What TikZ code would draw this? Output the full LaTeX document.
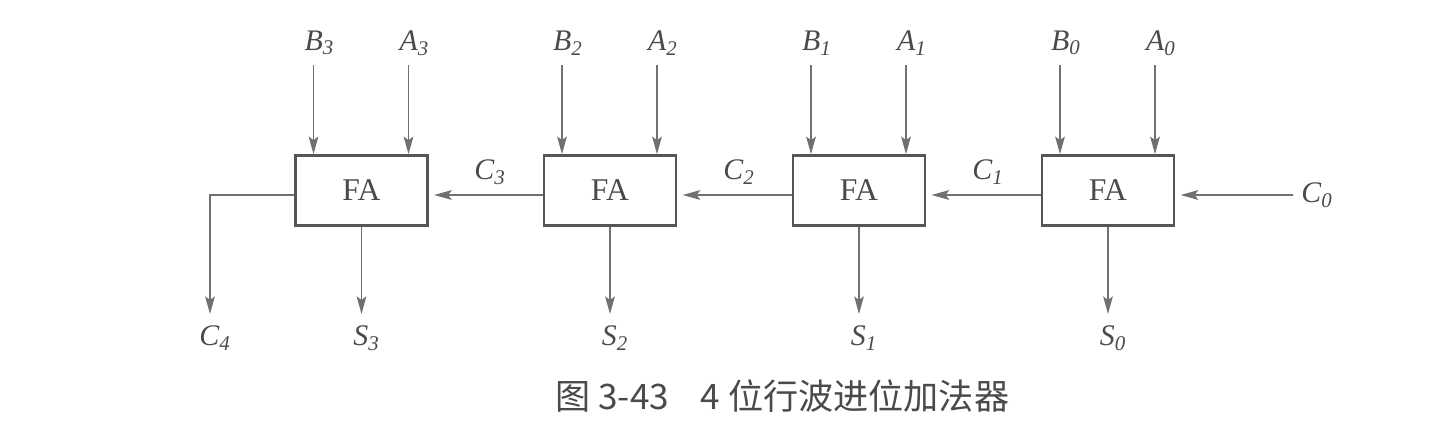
\documentclass[tikz,border=0pt]{standalone}
\usepackage{fontspec}
\setmainfont{Liberation Serif}
\newfontfamily\cjk{Noto Sans CJK SC}
\usetikzlibrary{arrows.meta}
\definecolor{ink}{HTML}{4A4A4A}
\definecolor{wirec}{HTML}{707070}
\definecolor{boxc}{HTML}{555555}
\begin{document}
\begin{tikzpicture}[x=0.02cm,y=-0.02cm,
  fabox/.style={draw=boxc, line width=1.5pt, minimum width=2.64cm, minimum height=1.40cm,
    inner sep=0pt, font=\fontsize{18}{20}\selectfont, text=ink},
  wire/.style={draw=wirec, line width=1pt},
  arr/.style={wire, -{Stealth[length=10pt,width=5.5pt,inset=2pt]}},
  lbl/.style={font=\fontsize{17}{19}\selectfont\itshape, text=ink, inner sep=1pt},
  captext/.style={font=\cjk\fontsize{20}{24}\selectfont, text=ink, inner sep=0pt}]
\useasboundingbox (0,0) rectangle (1447,430);

% full adders
\node[fabox] (fa3) at (361.5,190.5) {FA};
\node[fabox] (fa2) at (610,190.5) {FA};
\node[fabox] (fa1) at (859,190.5) {FA};
\node[fabox] (fa0) at (1108,190.5) {FA};

% input labels and arrows
\foreach \i/\cx in {3/361.5,2/610,1/859,0/1108}{
  \node[lbl] (b\i) at (\cx-48+6,43) {B\textsubscript{\i}};
  \node[lbl] (a\i) at (\cx+47+6,43) {A\textsubscript{\i}};
  \coordinate (bin\i) at (\cx-48,65);
  \coordinate (ain\i) at (\cx+47,65);
  \draw[arr] (bin\i) -- (bin\i |- fa\i.north);
  \draw[arr] (ain\i) -- (ain\i |- fa\i.north);
  \node[lbl] (s\i) at (\cx+5,338) {S\textsubscript{\i}};
  \coordinate (sout\i) at (\cx,314);
  \draw[arr] (fa\i.south) -- (sout\i);
}

% carries between stages
\draw[arr, shorten >=3pt] ([yshift=-0.09cm]fa2.west) -- ([yshift=-0.09cm]fa3.east);
\draw[arr, shorten >=3pt] ([yshift=-0.09cm]fa1.west) -- ([yshift=-0.09cm]fa2.east);
\draw[arr, shorten >=3pt] ([yshift=-0.09cm]fa0.west) -- ([yshift=-0.09cm]fa1.east);
\node[lbl] (c3) at (490,172) {C\textsubscript{3}};
\node[lbl] (c2) at (739,172) {C\textsubscript{2}};
\node[lbl] (c1) at (988,172) {C\textsubscript{1}};

% carry in
\node[lbl] (c0) at (1317,195) {C\textsubscript{0}};
\coordinate (cin) at (1293,195);
\draw[arr, shorten >=3pt] (cin) -- ([yshift=-0.09cm]fa0.east);

% carry out
\coordinate (cbend) at (210,195);
\coordinate (cout) at (210,314);
\draw[arr] ([yshift=-0.09cm]fa3.west) -- (cbend) -- (cout);
\node[lbl] (c4) at (215,338) {C\textsubscript{4}};

% caption
\node[captext, anchor=west] (caption) at (555,396) {图 3-43\hspace{0.9em}4 位行波进位加法器};
\end{tikzpicture}
\end{document}
